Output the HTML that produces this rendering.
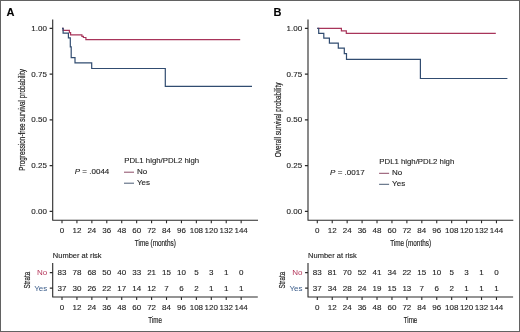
<!DOCTYPE html>
<html><head><meta charset="utf-8"><style>
html,body{margin:0;padding:0;background:#fff;}
body{width:520px;height:332px;overflow:hidden;}
svg{display:block;will-change:transform;}
text{font-family:"Liberation Sans",sans-serif;font-size:8px;fill:#1e1e1e;stroke:#1e1e1e;stroke-width:0.12px;}
.tt{font-size:8.7px;fill:#222;stroke:#222;stroke-width:0.18px;}
.ax{stroke:#2b2b2b;stroke-width:1.1;fill:none;}
.red{stroke:#a8345a;stroke-width:1.2;fill:none;}
.blue{stroke:#314c70;stroke-width:1.2;fill:none;}
.lbl{font-weight:bold;font-size:11px;fill:#000;}
</style></head><body>
<svg width="520" height="332" viewBox="0 0 520 332">
<rect x="0.5" y="0.5" width="519" height="331" fill="#fff" stroke="#626262" stroke-width="1"/>
<text x="6.6" y="15.8" class="lbl">A</text>
<text x="273.4" y="16.1" class="lbl">B</text>
<path d="M52.70 19.5V220.2M52.20 220.2H258.00" class="ax"/>
<text x="46.90" y="30.85" text-anchor="end">1.00</text>
<text x="46.90" y="76.60" text-anchor="end">0.75</text>
<text x="46.90" y="122.35" text-anchor="end">0.50</text>
<text x="46.90" y="168.10" text-anchor="end">0.25</text>
<text x="46.90" y="213.85" text-anchor="end">0.00</text>
<text x="62.00" y="232.90" text-anchor="middle">0</text>
<text x="62.00" y="309.60" text-anchor="middle">0</text>
<text x="76.93" y="232.90" text-anchor="middle">12</text>
<text x="76.93" y="309.60" text-anchor="middle">12</text>
<text x="91.86" y="232.90" text-anchor="middle">24</text>
<text x="91.86" y="309.60" text-anchor="middle">24</text>
<text x="106.79" y="232.90" text-anchor="middle">36</text>
<text x="106.79" y="309.60" text-anchor="middle">36</text>
<text x="121.72" y="232.90" text-anchor="middle">48</text>
<text x="121.72" y="309.60" text-anchor="middle">48</text>
<text x="136.65" y="232.90" text-anchor="middle">60</text>
<text x="136.65" y="309.60" text-anchor="middle">60</text>
<text x="151.58" y="232.90" text-anchor="middle">72</text>
<text x="151.58" y="309.60" text-anchor="middle">72</text>
<text x="166.51" y="232.90" text-anchor="middle">84</text>
<text x="166.51" y="309.60" text-anchor="middle">84</text>
<text x="181.44" y="232.90" text-anchor="middle">96</text>
<text x="181.44" y="309.60" text-anchor="middle">96</text>
<text x="196.37" y="232.90" text-anchor="middle">108</text>
<text x="196.37" y="309.60" text-anchor="middle">108</text>
<text x="211.30" y="232.90" text-anchor="middle">120</text>
<text x="211.30" y="309.60" text-anchor="middle">120</text>
<text x="226.23" y="232.90" text-anchor="middle">132</text>
<text x="226.23" y="309.60" text-anchor="middle">132</text>
<text x="241.16" y="232.90" text-anchor="middle">144</text>
<text x="241.16" y="309.60" text-anchor="middle">144</text>
<path d="M49.60 28.40H52.70M49.60 74.15H52.70M49.60 119.90H52.70M49.60 165.65H52.70M49.60 211.40H52.70M62.00 220.2V223.2M62.00 297V300.0M76.93 220.2V223.2M76.93 297V300.0M91.86 220.2V223.2M91.86 297V300.0M106.79 220.2V223.2M106.79 297V300.0M121.72 220.2V223.2M121.72 297V300.0M136.65 220.2V223.2M136.65 297V300.0M151.58 220.2V223.2M151.58 297V300.0M166.51 220.2V223.2M166.51 297V300.0M181.44 220.2V223.2M181.44 297V300.0M196.37 220.2V223.2M196.37 297V300.0M211.30 220.2V223.2M211.30 297V300.0M226.23 220.2V223.2M226.23 297V300.0M241.16 220.2V223.2M241.16 297V300.0" class="ax"/>
<text class="tt" transform="translate(25.30 119.9) rotate(-90) scale(0.735 1)" text-anchor="middle">Progression-free survival probability</text>
<text class="tt" transform="translate(155.30 245.5) scale(0.735 1)" text-anchor="middle">Time (months)</text>
<path d="M62 28.4H63.1V30.4H69.4V32.6H70.6V34.8H81.9V36.3H83.4V37.5H85.9V39.6H240.2" class="red"/>
<path d="M62 28.4H63.1V33.1H68.4V37.8H70.3V46.8H71.2V57.7H75.0V62.9H91.7V68.5H165.3V86.4H252" class="blue"/>
<text x="74.80" y="174.40"><tspan font-style="italic">P</tspan> = .0044</text>
<text x="124.20" y="162.90" style="font-size:7.8px">PDL1 high/PDL2 high</text>
<path d="M124.00 172.20H134.00" style="stroke:#8c4a66;stroke-width:1"/>
<path d="M124.00 183.20H134.00" style="stroke:#4a5c74;stroke-width:1"/>
<text x="137.00" y="174.25">No</text>
<text x="137.00" y="184.90">Yes</text>
<text x="52.80" y="258.4" style="font-size:7.5px">Number at risk</text>
<path d="M52.70 263V297M52.20 297H257.80M49.80 272.6H52.70M49.80 288.1H52.70" class="ax"/>
<text x="47.20" y="275.10" text-anchor="end" style="fill:#b5365a;stroke:none">No</text>
<text x="47.20" y="290.60" text-anchor="end" style="fill:#3a5c8a;stroke:none">Yes</text>
<text x="62.00" y="275.10" text-anchor="middle">83</text>
<text x="62.00" y="290.60" text-anchor="middle">37</text>
<text x="76.93" y="275.10" text-anchor="middle">78</text>
<text x="76.93" y="290.60" text-anchor="middle">30</text>
<text x="91.86" y="275.10" text-anchor="middle">68</text>
<text x="91.86" y="290.60" text-anchor="middle">26</text>
<text x="106.79" y="275.10" text-anchor="middle">50</text>
<text x="106.79" y="290.60" text-anchor="middle">22</text>
<text x="121.72" y="275.10" text-anchor="middle">40</text>
<text x="121.72" y="290.60" text-anchor="middle">17</text>
<text x="136.65" y="275.10" text-anchor="middle">33</text>
<text x="136.65" y="290.60" text-anchor="middle">14</text>
<text x="151.58" y="275.10" text-anchor="middle">21</text>
<text x="151.58" y="290.60" text-anchor="middle">12</text>
<text x="166.51" y="275.10" text-anchor="middle">15</text>
<text x="166.51" y="290.60" text-anchor="middle">7</text>
<text x="181.44" y="275.10" text-anchor="middle">10</text>
<text x="181.44" y="290.60" text-anchor="middle">6</text>
<text x="196.37" y="275.10" text-anchor="middle">5</text>
<text x="196.37" y="290.60" text-anchor="middle">2</text>
<text x="211.30" y="275.10" text-anchor="middle">3</text>
<text x="211.30" y="290.60" text-anchor="middle">1</text>
<text x="226.23" y="275.10" text-anchor="middle">1</text>
<text x="226.23" y="290.60" text-anchor="middle">1</text>
<text x="241.16" y="275.10" text-anchor="middle">0</text>
<text x="241.16" y="290.60" text-anchor="middle">1</text>
<text class="tt" transform="translate(29.50 280.2) rotate(-90) scale(0.72 1)" text-anchor="middle">Strata</text>
<text class="tt" transform="translate(155.20 322.7) scale(0.72 1)" text-anchor="middle">Time</text>
<path d="M308.00 19.5V220.2M307.50 220.2H513.30" class="ax"/>
<text x="302.20" y="30.85" text-anchor="end">1.00</text>
<text x="302.20" y="76.60" text-anchor="end">0.75</text>
<text x="302.20" y="122.35" text-anchor="end">0.50</text>
<text x="302.20" y="168.10" text-anchor="end">0.25</text>
<text x="302.20" y="213.85" text-anchor="end">0.00</text>
<text x="317.30" y="232.90" text-anchor="middle">0</text>
<text x="317.30" y="309.60" text-anchor="middle">0</text>
<text x="332.23" y="232.90" text-anchor="middle">12</text>
<text x="332.23" y="309.60" text-anchor="middle">12</text>
<text x="347.16" y="232.90" text-anchor="middle">24</text>
<text x="347.16" y="309.60" text-anchor="middle">24</text>
<text x="362.09" y="232.90" text-anchor="middle">36</text>
<text x="362.09" y="309.60" text-anchor="middle">36</text>
<text x="377.02" y="232.90" text-anchor="middle">48</text>
<text x="377.02" y="309.60" text-anchor="middle">48</text>
<text x="391.95" y="232.90" text-anchor="middle">60</text>
<text x="391.95" y="309.60" text-anchor="middle">60</text>
<text x="406.88" y="232.90" text-anchor="middle">72</text>
<text x="406.88" y="309.60" text-anchor="middle">72</text>
<text x="421.81" y="232.90" text-anchor="middle">84</text>
<text x="421.81" y="309.60" text-anchor="middle">84</text>
<text x="436.74" y="232.90" text-anchor="middle">96</text>
<text x="436.74" y="309.60" text-anchor="middle">96</text>
<text x="451.67" y="232.90" text-anchor="middle">108</text>
<text x="451.67" y="309.60" text-anchor="middle">108</text>
<text x="466.60" y="232.90" text-anchor="middle">120</text>
<text x="466.60" y="309.60" text-anchor="middle">120</text>
<text x="481.53" y="232.90" text-anchor="middle">132</text>
<text x="481.53" y="309.60" text-anchor="middle">132</text>
<text x="496.46" y="232.90" text-anchor="middle">144</text>
<text x="496.46" y="309.60" text-anchor="middle">144</text>
<path d="M304.90 28.40H308.00M304.90 74.15H308.00M304.90 119.90H308.00M304.90 165.65H308.00M304.90 211.40H308.00M317.30 220.2V223.2M317.30 297V300.0M332.23 220.2V223.2M332.23 297V300.0M347.16 220.2V223.2M347.16 297V300.0M362.09 220.2V223.2M362.09 297V300.0M377.02 220.2V223.2M377.02 297V300.0M391.95 220.2V223.2M391.95 297V300.0M406.88 220.2V223.2M406.88 297V300.0M421.81 220.2V223.2M421.81 297V300.0M436.74 220.2V223.2M436.74 297V300.0M451.67 220.2V223.2M451.67 297V300.0M466.60 220.2V223.2M466.60 297V300.0M481.53 220.2V223.2M481.53 297V300.0M496.46 220.2V223.2M496.46 297V300.0" class="ax"/>
<text class="tt" transform="translate(280.60 119.9) rotate(-90) scale(0.735 1)" text-anchor="middle">Overall survival probability</text>
<text class="tt" transform="translate(410.60 245.5) scale(0.735 1)" text-anchor="middle">Time (months)</text>
<path d="M317.3 28.4H341.4V30.8H346.3V33.3H495.8" class="red"/>
<path d="M317.3 28.4H318.7V33.3H323.8V38.2H329.4V43.2H338.3V48.1H344.3V53.7H346.5V59.4H420.4V78.5H507.4" class="blue"/>
<text x="330.10" y="175.10"><tspan font-style="italic">P</tspan> = .0017</text>
<text x="379.30" y="164.00" style="font-size:7.8px">PDL1 high/PDL2 high</text>
<path d="M379.10 173.30H389.10" style="stroke:#8c4a66;stroke-width:1"/>
<path d="M379.10 184.30H389.10" style="stroke:#4a5c74;stroke-width:1"/>
<text x="392.10" y="175.35">No</text>
<text x="392.10" y="186.00">Yes</text>
<text x="308.10" y="258.4" style="font-size:7.5px">Number at risk</text>
<path d="M308.00 263V297M307.50 297H513.10M305.10 272.6H308.00M305.10 288.1H308.00" class="ax"/>
<text x="302.50" y="275.10" text-anchor="end" style="fill:#b5365a;stroke:none">No</text>
<text x="302.50" y="290.60" text-anchor="end" style="fill:#3a5c8a;stroke:none">Yes</text>
<text x="317.30" y="275.10" text-anchor="middle">83</text>
<text x="317.30" y="290.60" text-anchor="middle">37</text>
<text x="332.23" y="275.10" text-anchor="middle">81</text>
<text x="332.23" y="290.60" text-anchor="middle">34</text>
<text x="347.16" y="275.10" text-anchor="middle">70</text>
<text x="347.16" y="290.60" text-anchor="middle">28</text>
<text x="362.09" y="275.10" text-anchor="middle">52</text>
<text x="362.09" y="290.60" text-anchor="middle">24</text>
<text x="377.02" y="275.10" text-anchor="middle">41</text>
<text x="377.02" y="290.60" text-anchor="middle">19</text>
<text x="391.95" y="275.10" text-anchor="middle">34</text>
<text x="391.95" y="290.60" text-anchor="middle">15</text>
<text x="406.88" y="275.10" text-anchor="middle">22</text>
<text x="406.88" y="290.60" text-anchor="middle">13</text>
<text x="421.81" y="275.10" text-anchor="middle">15</text>
<text x="421.81" y="290.60" text-anchor="middle">7</text>
<text x="436.74" y="275.10" text-anchor="middle">10</text>
<text x="436.74" y="290.60" text-anchor="middle">6</text>
<text x="451.67" y="275.10" text-anchor="middle">5</text>
<text x="451.67" y="290.60" text-anchor="middle">2</text>
<text x="466.60" y="275.10" text-anchor="middle">3</text>
<text x="466.60" y="290.60" text-anchor="middle">1</text>
<text x="481.53" y="275.10" text-anchor="middle">1</text>
<text x="481.53" y="290.60" text-anchor="middle">1</text>
<text x="496.46" y="275.10" text-anchor="middle">0</text>
<text x="496.46" y="290.60" text-anchor="middle">1</text>
<text class="tt" transform="translate(284.80 280.2) rotate(-90) scale(0.72 1)" text-anchor="middle">Strata</text>
<text class="tt" transform="translate(410.50 322.7) scale(0.72 1)" text-anchor="middle">Time</text>
</svg>
</body></html>
